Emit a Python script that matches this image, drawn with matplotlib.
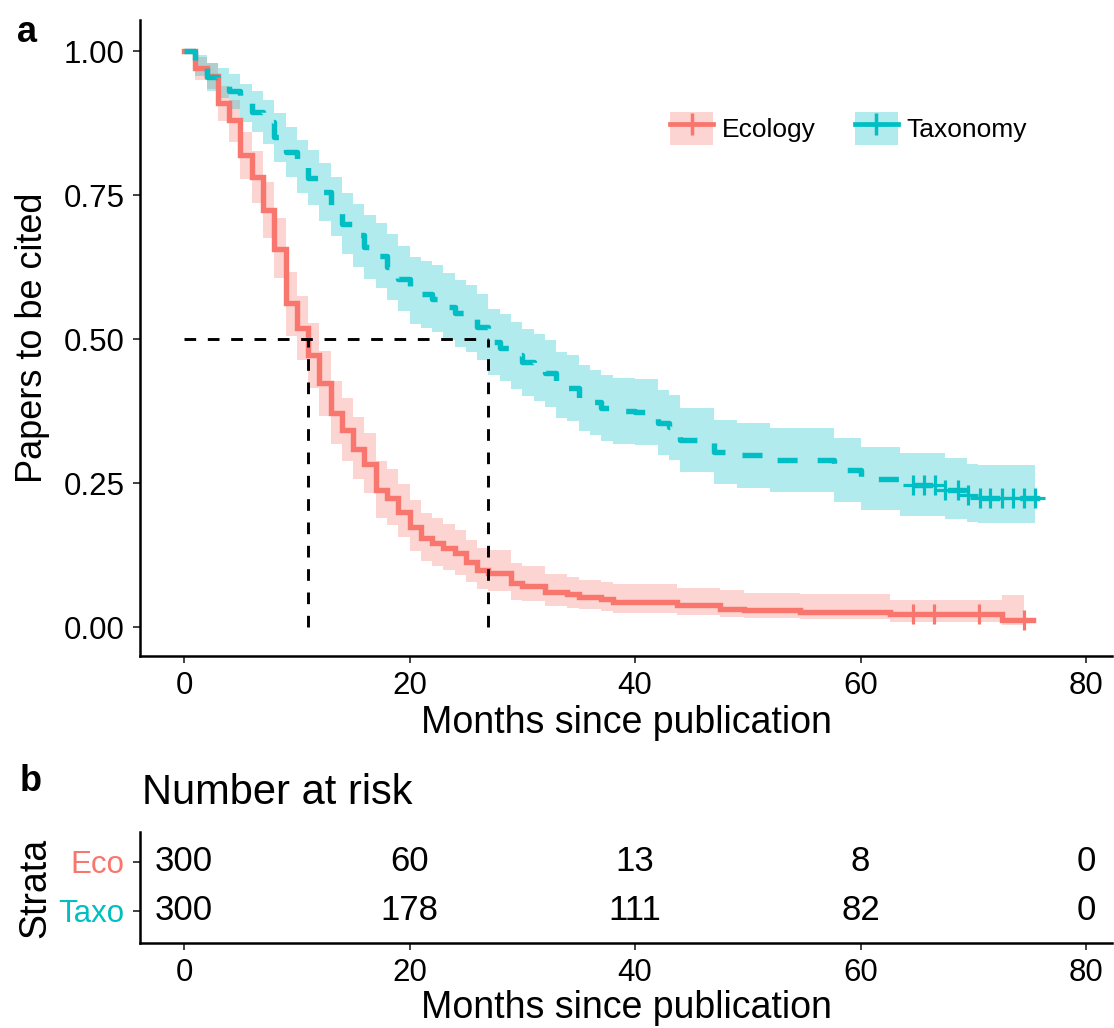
import numpy as np
import matplotlib
matplotlib.use("Agg")
import matplotlib.pyplot as plt
from matplotlib.patches import Patch
from matplotlib.lines import Line2D
from matplotlib.legend_handler import HandlerTuple

plt.rcParams['font.family'] = ['Liberation Sans', 'DejaVu Sans']

# Kaplan-Meier steps (month of step, survival after step)
eco_time = [0, 1, 2, 3, 4, 5, 6, 7, 8, 9, 10, 11, 12, 13, 14, 15, 16, 17, 18, 19,
            20, 21, 22, 23, 24, 25, 26, 27, 29, 30, 32, 34, 35, 37, 38,
            43.7, 47.5, 49.7, 54.6, 62.6, 72.5]
eco_surv = [1.0, 0.97, 0.957, 0.91, 0.88, 0.82, 0.782, 0.724, 0.656, 0.562,
            0.519, 0.472, 0.423, 0.372, 0.342, 0.310, 0.284, 0.238, 0.224, 0.200,
            0.174, 0.154, 0.146, 0.137, 0.128, 0.113, 0.100, 0.094,
            0.076, 0.072, 0.061, 0.057, 0.053, 0.049, 0.044,
            0.038, 0.032, 0.029, 0.0266, 0.0237, 0.012]
eco_upper = [1.0, 0.99, 0.98, 0.94, 0.915, 0.86, 0.827, 0.772, 0.71, 0.617,
             0.575, 0.528, 0.479, 0.428, 0.397, 0.364, 0.337, 0.289, 0.274, 0.248,
             0.22, 0.198, 0.189, 0.179, 0.169, 0.152, 0.138, 0.134,
             0.111, 0.106, 0.092, 0.087, 0.082, 0.078, 0.075,
             0.068, 0.064, 0.06, 0.057, 0.048, 0.0556]
eco_lower = [1.0, 0.95, 0.935, 0.878, 0.843, 0.778, 0.737, 0.676, 0.606, 0.506,
             0.463, 0.416, 0.367, 0.318, 0.289, 0.258, 0.233, 0.19, 0.177, 0.156,
             0.132, 0.114, 0.107, 0.099, 0.091, 0.078, 0.067, 0.062,
             0.048, 0.045, 0.037, 0.034, 0.031, 0.028, 0.025,
             0.021, 0.018, 0.016, 0.0133, 0.009, 0.0035]
eco_end = 75.3
eco_band_end = 74.5
eco_censor = [64.6, 66.5, 70.5, 74.5]

tax_time = [0, 1, 2, 3, 4, 5, 6, 7, 8, 9, 10, 11, 12, 13, 14, 15, 16, 17, 18, 19,
            20, 21, 22, 23, 24, 25, 26, 27, 28, 29, 30, 31, 32, 33, 34, 35, 36, 37, 38,
            40, 42, 43, 44, 47, 49, 52, 57.6, 60, 63.5, 67.5, 69.4, 70.4]
tax_surv = [1.0, 0.975, 0.955, 0.945, 0.93, 0.91, 0.895, 0.877, 0.85, 0.825,
            0.80, 0.78, 0.755, 0.73, 0.70, 0.68, 0.66, 0.645, 0.625, 0.605,
            0.585, 0.578, 0.57, 0.556, 0.545, 0.536, 0.521, 0.495, 0.485, 0.472,
            0.46, 0.45, 0.441, 0.42, 0.415, 0.398, 0.39, 0.38, 0.375,
            0.373, 0.355, 0.347, 0.325, 0.304, 0.298, 0.29, 0.273, 0.258, 0.247,
            0.238, 0.229, 0.225]
tax_upper = [1.0, 0.993, 0.979, 0.971, 0.96, 0.943, 0.93, 0.915, 0.892, 0.869,
             0.846, 0.828, 0.805, 0.781, 0.753, 0.734, 0.715, 0.701, 0.682, 0.662,
             0.643, 0.636, 0.628, 0.614, 0.603, 0.594, 0.579, 0.553, 0.543, 0.53,
             0.518, 0.508, 0.499, 0.477, 0.472, 0.455, 0.447, 0.437, 0.432,
             0.43, 0.412, 0.403, 0.381, 0.36, 0.354, 0.345, 0.328, 0.313, 0.302,
             0.293, 0.284, 0.281]
tax_lower = [1.0, 0.957, 0.931, 0.919, 0.9, 0.877, 0.86, 0.839, 0.808, 0.781,
             0.754, 0.732, 0.705, 0.679, 0.647, 0.626, 0.605, 0.589, 0.568, 0.548,
             0.527, 0.52, 0.512, 0.498, 0.487, 0.478, 0.463, 0.437, 0.427, 0.414,
             0.402, 0.392, 0.383, 0.363, 0.358, 0.341, 0.333, 0.323, 0.318,
             0.316, 0.298, 0.291, 0.269, 0.248, 0.242, 0.235, 0.218, 0.204, 0.193,
             0.187, 0.183, 0.181]
tax_end = 76.3
tax_band_end = 75.5
tax_censor = [64.6, 65.6, 66.6, 67.5, 68.6, 69.5, 70.6, 71.5, 72.5, 73.5, 74.5, 75.5]

medians = [11, 27]

# number at risk table
risk_times = [0, 20, 40, 60, 80]
eco_risk = [300, 60, 13, 8, 0]
tax_risk = [300, 178, 111, 82, 0]

red = '#F8766D'
teal = '#00BFC4'

fig = plt.figure(figsize=(11.14, 10.28), dpi=100)
ax = fig.add_axes([0.1257, 0.3619, 0.8726, 0.6187])


def surv_at(times, surv, t):
    idx = np.searchsorted(times, t, side='right') - 1
    return np.array(surv)[idx]


groups = [
    (eco_time, eco_surv, eco_lower, eco_upper, eco_end, eco_band_end, eco_censor, red, '-'),
    (tax_time, tax_surv, tax_lower, tax_upper, tax_end, tax_band_end, tax_censor, teal, (0, (3.7, 3.7))),
]
for t, s, lo, up, tend, bend, cens, col, ls in groups:
    tb = list(t) + [bend]
    ax.fill_between(tb, list(lo) + [lo[-1]], list(up) + [up[-1]], step='post',
                    color=col, alpha=0.3, lw=0)
for t, s, lo, up, tend, bend, cens, col, ls in groups:
    ax.plot(list(t) + [tend], list(s) + [s[-1]], drawstyle='steps-post',
            color=col, lw=3.9, linestyle=ls, solid_joinstyle='miter')
    ax.plot(cens, surv_at(t, s, cens), ls='none', marker='+', ms=14, mew=2.3, color=col)

# median lines
ax.plot([0, max(medians)], [0.5, 0.5], color='black', lw=2.1, dashes=(4, 4))
for m in medians:
    ax.plot([m, m], [0, 0.5], color='black', lw=2.1, dashes=(4, 4))

ax.set_xlim(-3.9, 82.3)
ax.set_ylim(-0.05, 1.054)
ax.set_xticks([0, 20, 40, 60, 80])
ax.set_yticks([0, 0.25, 0.5, 0.75, 1.0])
ax.set_yticklabels(['0.00', '0.25', '0.50', '0.75', '1.00'])
for side in ['top', 'right']:
    ax.spines[side].set_visible(False)
for side in ['left', 'bottom']:
    ax.spines[side].set_linewidth(1.8)
ax.tick_params(labelsize=22.5, width=1.3, length=5, color='#333333', pad=6)
ax.set_xlabel('Months since publication', fontsize=27, labelpad=3)
ax.set_ylabel('Papers to be cited', fontsize=26, labelpad=10)

handles = [
    (Patch(facecolor=red, alpha=0.3, lw=0), Line2D([], [], color=red, lw=3.4, marker='+', ms=16, mew=2.5)),
    (Patch(facecolor=teal, alpha=0.3, lw=0), Line2D([], [], color=teal, lw=3.4, marker='+', ms=16, mew=2.5)),
]
fig.legend(handles, ['Ecology', 'Taxonomy'], handler_map={tuple: HandlerTuple(ndivide=1)},
           loc='center', bbox_to_anchor=(0.762, 0.875), ncol=2, frameon=False,
           fontsize=19, handlelength=1.6, handleheight=1.6, columnspacing=1.5, handletextpad=0.35)

fig.text(0.015, 0.968, 'a', fontsize=26, fontweight='bold', va='center')

# risk table
ax2 = fig.add_axes([0.1257, 0.0827, 0.8726, 0.108])
ax2.set_xlim(-3.9, 82.3)
ax2.set_ylim(0.347, 2.612)
for x, n in zip(risk_times, eco_risk):
    ax2.text(x, 2, str(n), ha='center', va='center', fontsize=25)
for x, n in zip(risk_times, tax_risk):
    ax2.text(x, 1, str(n), ha='center', va='center', fontsize=25)
ax2.set_xticks(risk_times)
ax2.set_yticks([2, 1])
ax2.set_yticklabels(['Eco', 'Taxo'])
for lab, col in zip(ax2.get_yticklabels(), [red, teal]):
    lab.set_color(col)
for side in ['top', 'right']:
    ax2.spines[side].set_visible(False)
for side in ['left', 'bottom']:
    ax2.spines[side].set_linewidth(1.8)
ax2.tick_params(labelsize=22.5, width=1.3, length=5, color='#333333', pad=6)
ax2.set_xlabel('Months since publication', fontsize=27, labelpad=1)
ax2.set_ylabel('Strata', fontsize=27, labelpad=4)
fig.text(0.1275, 0.229, 'Number at risk', fontsize=30, va='center')
fig.text(0.018, 0.24, 'b', fontsize=26, fontweight='bold', va='center')

fig.savefig('out.png', dpi=100)
